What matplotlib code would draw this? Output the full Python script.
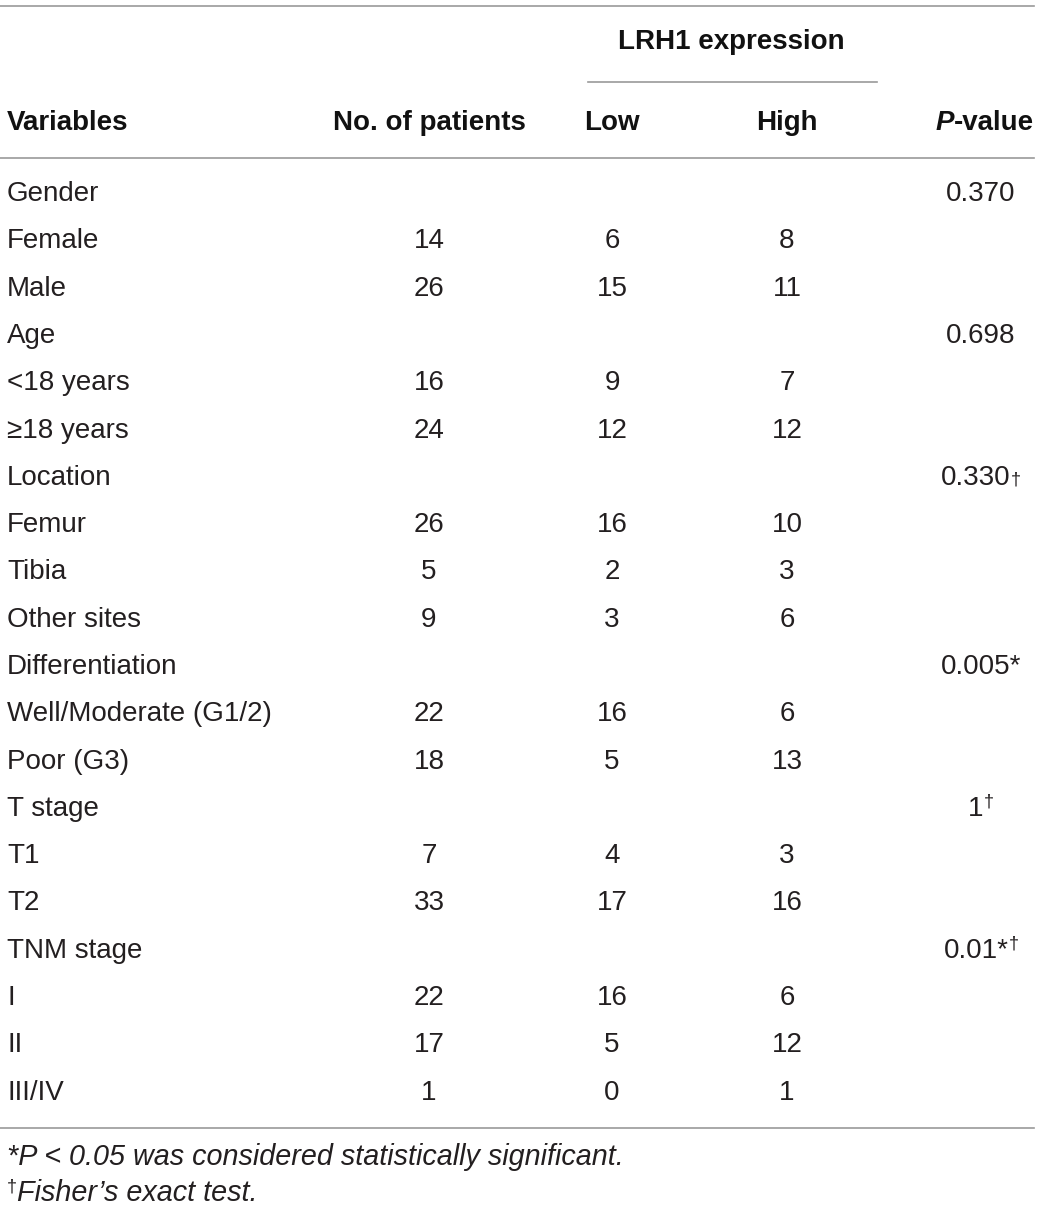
import matplotlib
matplotlib.use("Agg")
import matplotlib.pyplot as plt

plt.rcParams['font.family'] = ['Liberation Sans', 'DejaVu Sans']

# Table content
variables = ["Gender", "Female", "Male", "Age", "<18 years", "\u226518 years",
             "Location", "Femur", "Tibia", "Other sites", "Differentiation",
             "Well/Moderate (G1/2)", "Poor (G3)", "T stage", "T1", "T2",
             "TNM stage", "I", "II", "III/IV"]
n_patients = ["", "14", "26", "", "16", "24", "", "26", "5", "9", "", "22", "18",
              "", "7", "33", "", "22", "17", "1"]
low_expr = ["", "6", "15", "", "9", "12", "", "16", "2", "3", "", "16", "5",
            "", "4", "17", "", "16", "5", "0"]
high_expr = ["", "8", "11", "", "7", "12", "", "10", "3", "6", "", "6", "13",
             "", "3", "16", "", "6", "12", "1"]
p_values = ["0.370", "", "", "0.698", "", "", "0.330\u2020", "", "", "",
            "0.005*", "", "", "1\u2020", "", "", "0.01*\u2020", "", "", ""]

header_cols = ["No. of patients", "Low", "High"]
footnotes = ["*P < 0.05 was considered statistically significant.",
             "Fisher\u2019s exact test."]

W, H = 1040, 1210
fig = plt.figure(figsize=(W / 100, H / 100), dpi=100)
ax = fig.add_axes([0, 0, 1, 1])
ax.set_xlim(0, W)
ax.set_ylim(H, 0)
ax.axis('off')
renderer = fig.canvas.get_renderer()

body_size = 20
body_color = '#231f20'
head_color = '#111111'
line_color = '#9a9a9a'


def width_of(t):
    return t.get_window_extent(renderer=renderer).width


def text_with_sup(x, y, main, sup, size, center=True, raise_=0.35):
    # main text followed by a small mark, centred as a whole
    t1 = ax.text(0, y, main, fontsize=size, color=body_color, va='center',
                 ha='left')
    w1 = width_of(t1)
    t2 = ax.text(0, y - size * raise_, sup, fontsize=size * 0.65,
                 color=body_color, va='center', ha='left')
    w2 = width_of(t2)
    x0 = x - (w1 + w2) / 2 if center else x
    t1.set_x(x0)
    t2.set_x(x0 + w1)


# rules
ax.plot([0, 1034], [6, 6], color=line_color, lw=1.2)
ax.plot([588, 877], [82, 82], color=line_color, lw=1.2)
ax.plot([0, 1034], [158, 158], color=line_color, lw=1.2)
ax.plot([0, 1034], [1128, 1128], color=line_color, lw=1.2)

# header
x_var, x_n, x_low, x_high, x_p = 7, 429, 612, 787, 981
ax.text(731, 42, "LRH1 expression", fontsize=body_size, fontweight='bold',
        ha='center', va='center', color=head_color)
ax.text(x_var, 123, "Variables", fontsize=body_size, fontweight='bold',
        ha='left', va='center', color=head_color)
for xc, lab in zip([x_n, x_low, x_high], header_cols):
    ax.text(xc, 123, lab, fontsize=body_size, fontweight='bold',
            ha='center', va='center', color=head_color)
tv = ax.text(1034, 123, "-value", fontsize=body_size, fontweight='bold',
             ha='right', va='center', color=head_color)
wv = width_of(tv)
ax.text(1034 - wv, 123, "P", fontsize=body_size, fontweight='bold',
        style='italic', ha='right', va='center', color=head_color)

# body rows
y0, dy = 194, 47.3
for i, var in enumerate(variables):
    y = y0 + i * dy
    ax.text(x_var, y, var, fontsize=body_size, ha='left', va='center',
            color=body_color)
    for xc, col in zip([x_n, x_low, x_high], [n_patients, low_expr, high_expr]):
        if col[i]:
            ax.text(xc, y, col[i], fontsize=body_size, ha='center',
                    va='center', color=body_color)
    p = p_values[i]
    if p:
        if p.endswith("\u2020"):
            # the dagger sits low after a plain number, raised otherwise
            lift = -0.12 if len(p) > 3 and p[-2].isdigit() else 0.35
            text_with_sup(x_p, y, p[:-1], "\u2020", body_size, raise_=lift)
        else:
            ax.text(x_p, y, p, fontsize=body_size, ha='center', va='center',
                    color=body_color)

# footnotes
foot_size = 20.7
ax.text(x_var, 1157, footnotes[0], fontsize=foot_size, style='italic',
        ha='left', va='center', color=body_color)
td = ax.text(x_var, 1187, "\u2020", fontsize=13, ha='left', va='center',
             color=body_color)
wd = width_of(td)
ax.text(x_var + wd, 1193, footnotes[1], fontsize=foot_size, style='italic',
        ha='left', va='center', color=body_color)

fig.savefig("out.png", dpi=100)
